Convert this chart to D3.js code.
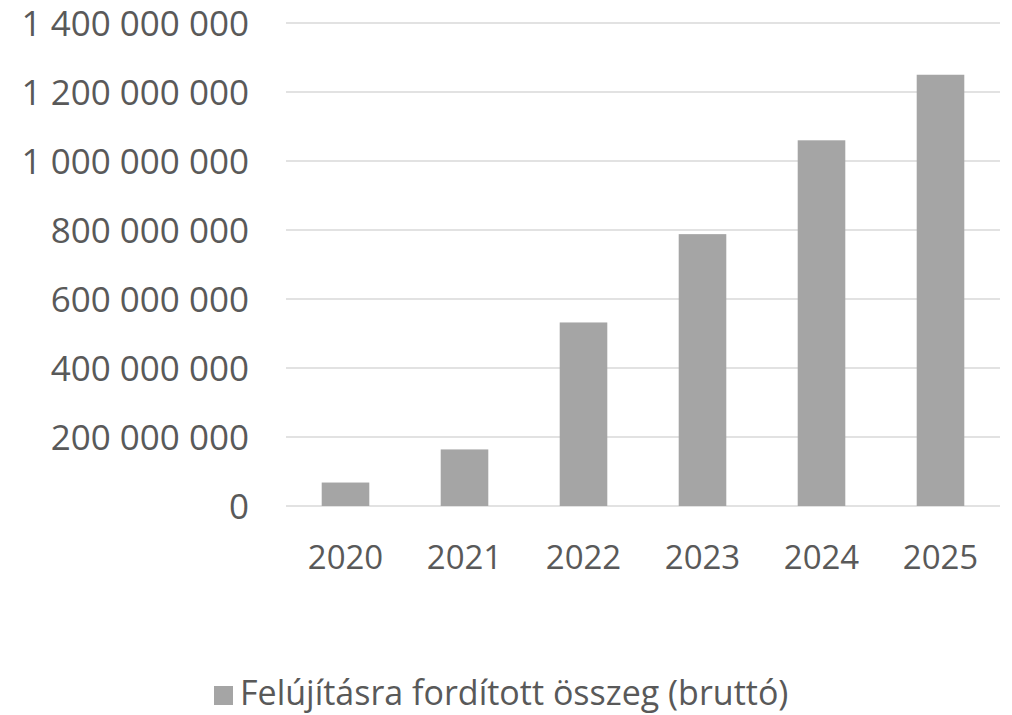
<!DOCTYPE html>
<head>
    <meta charset="utf-8"/>
    <script src="https://d3js.org/d3.v7.min.js"></script>
    <style>
        body {
            margin: 0;
            background: #fff;
        }
        text {
            font-family: "Open Sans", sans-serif;
            fill: #595959;
        }
    </style>
</head>

<body>
<script>
    var width = 1012,
        height = 715;

    // donnees
    var years = ["2020", "2021", "2022", "2023", "2024", "2025"];
    var amounts = [68000000, 164000000, 532000000, 788000000, 1060000000, 1250000000];
    var yTicks = [0, 200000000, 400000000, 600000000, 800000000, 1000000000, 1200000000, 1400000000];
    var seriesName = "Felújításra fordított összeg (bruttó)";

    var margin = {top: 23, right: 12, bottom: 209, left: 286};

    var svg = d3.select("body")
        .append("svg")
        .attr("width", width)
        .attr("height", height);

    var x = d3.scaleBand()
        .domain(years)
        .range([margin.left, width - margin.right])
        .paddingInner(0.6)
        .paddingOuter(0.3);

    var y = d3.scaleLinear()
        .domain([0, 1400000000])
        .range([height - margin.bottom, margin.top]);

    // separateur de milliers : espace
    var fmt = function (v) {
        return d3.format(",")(v).replace(/,/g, " ");
    };

    // grille
    svg.append("g")
        .selectAll("line")
        .data(yTicks)
        .join("line")
        .attr("x1", margin.left)
        .attr("x2", width - margin.right)
        .attr("y1", function (d) { return y(d); })
        .attr("y2", function (d) { return y(d); })
        .attr("stroke", "#d9d9d9")
        .attr("stroke-width", 1.5);

    // barres
    svg.append("g")
        .selectAll("rect")
        .data(amounts)
        .join("rect")
        .attr("x", function (d, i) { return x(years[i]); })
        .attr("width", x.bandwidth())
        .attr("y", function (d) { return y(d); })
        .attr("height", function (d) { return y(0) - y(d); })
        .attr("fill", "#a5a5a5");

    // axe y
    var yAxis = svg.append("g")
        .attr("transform", "translate(" + (margin.left - 37) + ",0)")
        .call(d3.axisLeft(y).tickValues(yTicks).tickFormat(fmt).tickSize(0).tickPadding(0));
    yAxis.select(".domain").remove();
    yAxis.selectAll("text")
        .attr("dy", "0.36em")
        .style("font-size", "35px")
        .style("font-family", "'Open Sans', sans-serif")
        .attr("fill", "#595959");

    // axe x
    var xAxis = svg.append("g")
        .attr("transform", "translate(0," + y(0) + ")")
        .call(d3.axisBottom(x).tickSize(0).tickPadding(0));
    xAxis.select(".domain").remove();
    xAxis.selectAll("text")
        .attr("y", 63)
        .attr("dy", 0)
        .style("font-size", "33px")
        .style("font-family", "'Open Sans', sans-serif")
        .attr("fill", "#595959");

    // legende
    var legend = svg.append("g");
    legend.append("rect")
        .attr("x", 214)
        .attr("y", 686)
        .attr("width", 19)
        .attr("height", 19)
        .attr("fill", "#a5a5a5");
    legend.append("text")
        .attr("x", 240)
        .attr("y", 705)
        .style("font-size", "34px")
        .text(seriesName);
</script>
</body>
